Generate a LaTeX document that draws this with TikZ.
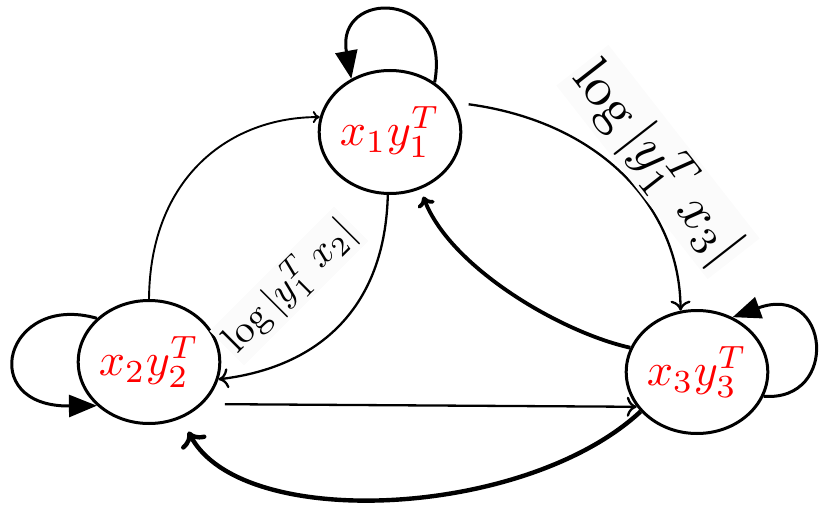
\documentclass[tikz,border=0pt]{standalone}
\usepackage{graphicx}
\usetikzlibrary{arrows.meta,shapes.geometric}
\newcommand{\mybig}[2]{\scalebox{#1}{$#2$}}
\begin{document}
\begin{tikzpicture}[x=1pt,y=1pt,
  state/.style={ellipse, draw, line width=3pt, minimum width=134pt, minimum height=123pt,
    inner sep=0pt, text=red},
  loopedge/.style={line width=3pt, -{Triangle[length=28pt,width=22pt]}},
  thinedge/.style={line width=2.3pt, -{Computer Modern Rightarrow[length=10pt,width=20pt]}},
  smalledge/.style={line width=1.9pt, -{Computer Modern Rightarrow[length=7pt,width=12pt]}},
  thickedge/.style={line width=3.8pt, -{Computer Modern Rightarrow[length=10pt,width=18pt]}},
  heavyedge/.style={line width=4.4pt, -{Computer Modern Rightarrow[length=14pt,width=28pt]}},
  lbl/.style={fill=white!98.5!black, inner sep=3pt}
]
\useasboundingbox (0,0) rectangle (819,507);
\node[state] (n1) at (390,375) {\mybig{4.6}{x_1y_1^T}};
\node[state] (n2) at (149,145) {\mybig{4.6}{x_2y_2^T}};
\node[state] (n3) at (697,135) {\mybig{4.6}{x_3y_3^T}};

% self loops
\draw[loopedge] (n1.48) .. controls (452,518) and (335,518) .. (n1.126);
\draw[loopedge] (n2.140) .. controls (5,215) and (-25,100) .. (n2.220);
\draw[loopedge] (n3.-20) .. controls (840,105) and (830,225) .. (n3.57);

% edges
\draw[smalledge] (n2.90) .. controls (150,330) and (230,390) .. (n1.168);
\draw[thinedge, shorten <=15pt] (n1.25) .. controls (600,385) and (680,300) .. (n3.105);
\node[lbl, rotate=-52] (l13) at (658,345) {\mybig{5.5}{\log|y_1^T\,x_3|}};
\draw[thinedge] (n1.268) .. controls (385,200) and (320,140) .. (n2.-14);
\node[lbl, rotate=45] (l12) at (289,221) {\mybig{3.9}{\log|y_1^T\,x_2|}};
\draw[thickedge, shorten >=8pt] (n3.160) .. controls (560,175) and (450,240) .. (n1.-62);
\draw[thinedge, shorten <=22pt] (n2.-38) -- (n3.210);
\draw[heavyedge, shorten >=15pt] (n3.215) .. controls (525,-12) and (240,-25) .. (n2.-60);
\end{tikzpicture}
\end{document}
